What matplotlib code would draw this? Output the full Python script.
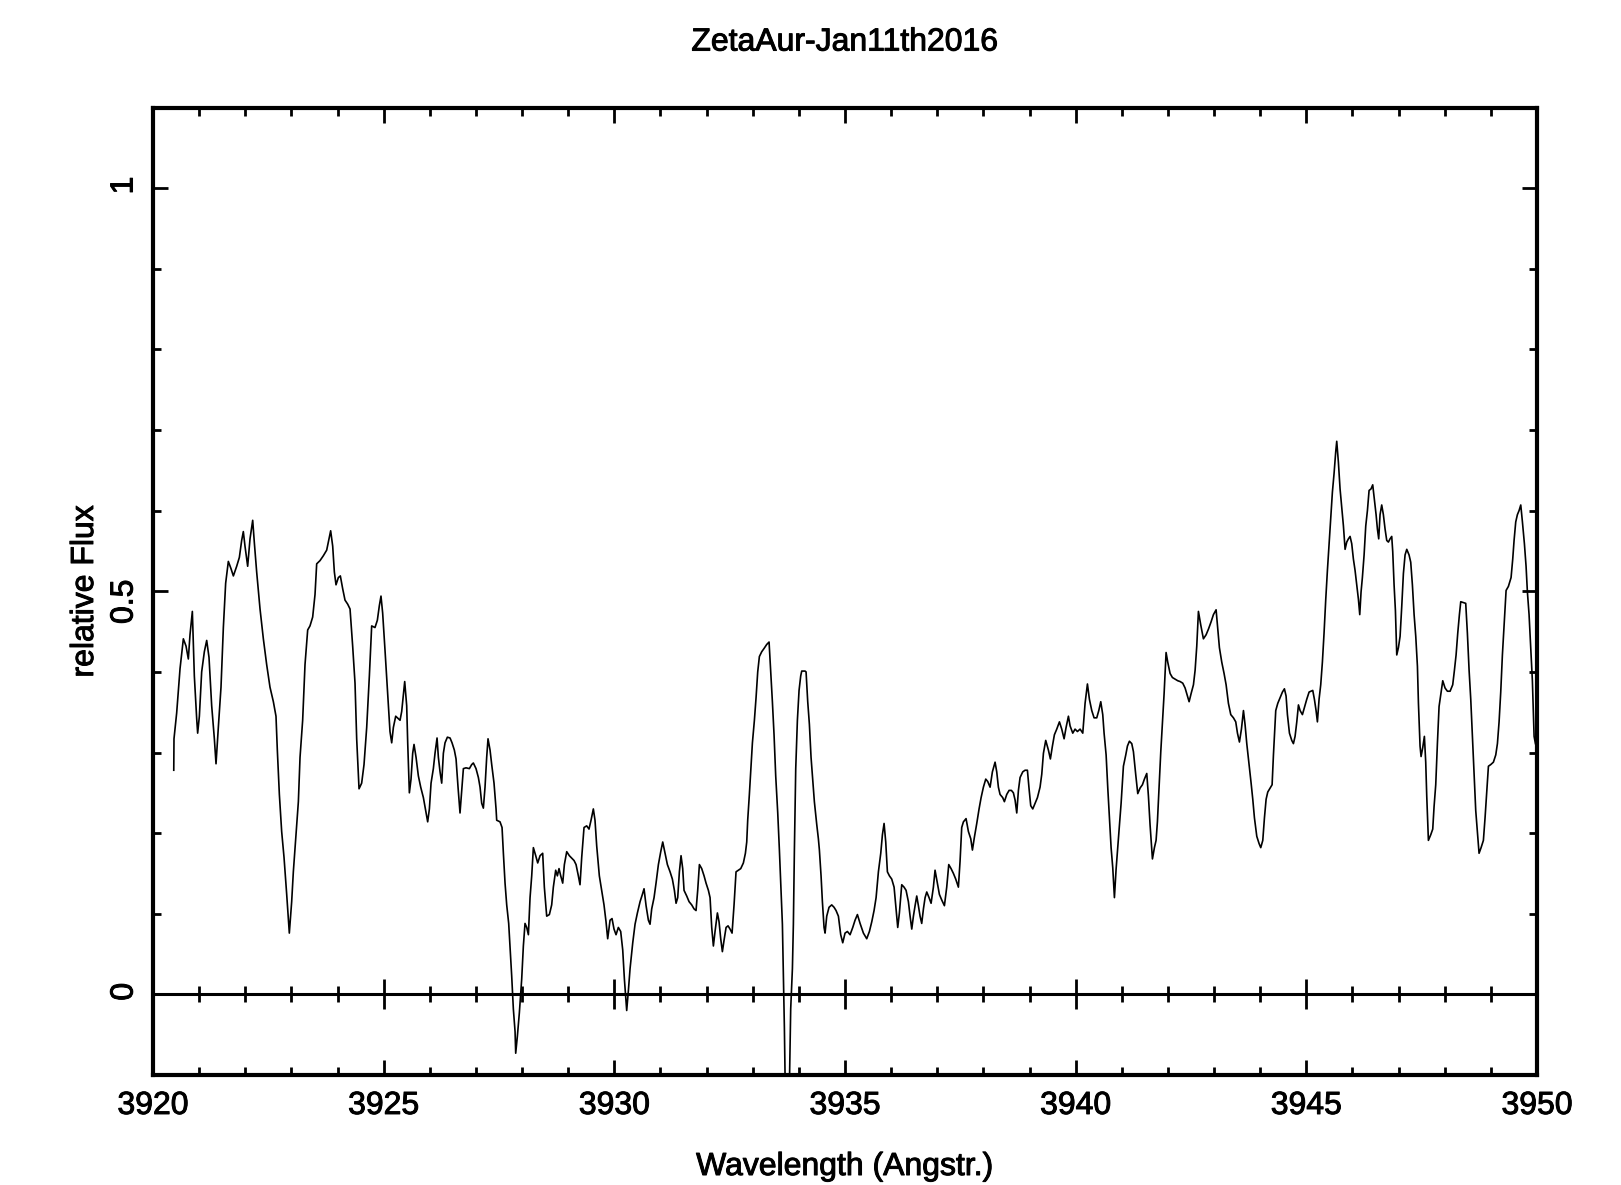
import matplotlib
matplotlib.use("Agg")
import matplotlib.pyplot as plt
import matplotlib.patheffects as pe
from matplotlib.ticker import MultipleLocator

# Spektrum
wavelength = [
    3920.450, 3920.455, 3920.513, 3920.586, 3920.658, 3920.716, 3920.766, 3920.802, 3920.853, 3920.896,
    3920.947, 3920.968, 3921.005, 3921.055, 3921.113, 3921.164, 3921.214, 3921.272, 3921.330, 3921.366,
    3921.416, 3921.474, 3921.525, 3921.575, 3921.633, 3921.691, 3921.742, 3921.814, 3921.872, 3921.922,
    3921.958, 3921.994, 3922.052, 3922.103, 3922.161, 3922.197, 3922.247, 3922.320, 3922.392, 3922.464,
    3922.536, 3922.609, 3922.666, 3922.695, 3922.739, 3922.789, 3922.840, 3922.898, 3922.955, 3923.006,
    3923.042, 3923.100, 3923.151, 3923.187, 3923.244, 3923.295, 3923.353, 3923.403, 3923.461, 3923.512,
    3923.548, 3923.620, 3923.692, 3923.765, 3923.815, 3923.851, 3923.895, 3923.931, 3923.967, 3924.018,
    3924.061, 3924.112, 3924.162, 3924.220, 3924.271, 3924.328, 3924.379, 3924.415, 3924.466, 3924.523,
    3924.574, 3924.632, 3924.690, 3924.740, 3924.812, 3924.863, 3924.906, 3924.942, 3924.978, 3925.029,
    3925.087, 3925.137,
    3925.174, 3925.210, 3925.261, 3925.319, 3925.355, 3925.391, 3925.427, 3925.456, 3925.499, 3925.521,
    3925.557, 3925.593, 3925.629, 3925.658, 3925.702, 3925.752, 3925.803, 3925.861, 3925.911, 3925.954,
    3925.991, 3926.027, 3926.077, 3926.113, 3926.157, 3926.186, 3926.222, 3926.258, 3926.294, 3926.330,
    3926.381, 3926.439, 3926.482, 3926.532, 3926.569, 3926.612, 3926.655, 3926.691, 3926.728, 3926.785,
    3926.858, 3926.908, 3926.944, 3927.002, 3927.053, 3927.089, 3927.125, 3927.161, 3927.197, 3927.233,
    3927.262, 3927.306, 3927.342, 3927.392, 3927.436, 3927.450, 3927.522, 3927.566, 3927.595, 3927.631,
    3927.667, 3927.710, 3927.739, 3927.775, 3927.811, 3927.848, 3927.862, 3927.898, 3927.941, 3927.992,
    3928.028, 3928.064, 3928.101, 3928.137, 3928.173, 3928.209, 3928.245, 3928.296, 3928.339, 3928.390,
    3928.447, 3928.483, 3928.534, 3928.592, 3928.642, 3928.678, 3928.729, 3928.765, 3928.801, 3928.838,
    3928.881, 3928.917, 3928.968, 3929.025, 3929.076, 3929.127, 3929.170, 3929.220, 3929.256, 3929.293,
    3929.343, 3929.401, 3929.451, 3929.495, 3929.545, 3929.581, 3929.618, 3929.675, 3929.726, 3929.776,
    3929.820, 3929.856, 3929.907, 3929.950, 3929.993, 3930.037, 3930.087, 3930.138,
    3930.182, 3930.218, 3930.268, 3930.305, 3930.341, 3930.399, 3930.449, 3930.500, 3930.558, 3930.608,
    3930.644, 3930.688, 3930.738, 3930.774, 3930.810, 3930.861, 3930.904, 3930.955, 3931.006, 3931.049,
    3931.099, 3931.150, 3931.208, 3931.258, 3931.302, 3931.338, 3931.374, 3931.410, 3931.446, 3931.482,
    3931.511, 3931.569, 3931.620, 3931.677, 3931.728, 3931.771, 3931.807, 3931.844, 3931.894, 3931.945,
    3931.988, 3932.039, 3932.075, 3932.111, 3932.147, 3932.183, 3932.234, 3932.270, 3932.306, 3932.342,
    3932.378, 3932.422, 3932.465, 3932.508, 3932.552, 3932.595, 3932.638, 3932.689, 3932.740, 3932.797,
    3932.841, 3932.870, 3932.891, 3932.927, 3932.956, 3932.993, 3933.036, 3933.072, 3933.108, 3933.144,
    3933.195, 3933.245, 3933.303, 3933.354, 3933.390, 3933.426, 3933.462, 3933.498, 3933.542, 3933.578,
    3933.614, 3933.643, 3933.664, 3933.686, 3933.745, 3933.800, 3933.823, 3933.860, 3933.881, 3933.903,
    3933.932, 3933.968, 3934.004, 3934.040, 3934.062, 3934.134, 3934.156, 3934.192, 3934.228, 3934.264,
    3934.300, 3934.336, 3934.387, 3934.423, 3934.445, 3934.481, 3934.510, 3934.546, 3934.568, 3934.604,
    3934.654, 3934.712, 3934.763, 3934.806, 3934.857, 3934.907, 3934.951, 3935.001, 3935.052,
    3935.110, 3935.168, 3935.218, 3935.269, 3935.327, 3935.399, 3935.471, 3935.529, 3935.580, 3935.630,
    3935.674, 3935.724, 3935.775, 3935.811, 3935.847, 3935.883, 3935.919, 3935.963, 3936.013, 3936.064,
    3936.100, 3936.143, 3936.179, 3936.230, 3936.280, 3936.324, 3936.374, 3936.411, 3936.447, 3936.483,
    3936.519, 3936.555, 3936.591, 3936.627, 3936.663, 3936.700, 3936.736, 3936.772, 3936.822, 3936.866,
    3936.916, 3936.952, 3937.003, 3937.046, 3937.097, 3937.155, 3937.205, 3937.249, 3937.299, 3937.350,
    3937.400, 3937.458, 3937.494, 3937.530, 3937.567, 3937.624, 3937.675, 3937.726, 3937.762, 3937.805,
    3937.856, 3937.906, 3937.950, 3938.000, 3938.051, 3938.094, 3938.145, 3938.195, 3938.253, 3938.289,
    3938.325, 3938.361, 3938.419, 3938.455, 3938.506, 3938.557, 3938.607, 3938.650, 3938.687, 3938.723,
    3938.759, 3938.795, 3938.853, 3938.903, 3938.954, 3938.990, 3939.026, 3939.070, 3939.120, 3939.171,
    3939.228, 3939.265, 3939.301, 3939.351, 3939.409, 3939.452, 3939.496, 3939.539, 3939.590, 3939.648,
    3939.698, 3939.749, 3939.792, 3939.843, 3939.879, 3939.937, 3939.987, 3940.038,
    3940.096, 3940.154, 3940.204, 3940.255, 3940.298, 3940.349, 3940.399, 3940.457, 3940.501, 3940.544,
    3940.587, 3940.616, 3940.660, 3940.696, 3940.732, 3940.768, 3940.804, 3940.840, 3940.876, 3940.913,
    3940.949, 3940.985, 3941.035, 3941.086, 3941.122, 3941.165, 3941.216, 3941.252, 3941.303, 3941.346,
    3941.397, 3941.447, 3941.490, 3941.541, 3941.577, 3941.613, 3941.664, 3941.707, 3941.743, 3941.772,
    3941.808, 3941.845, 3941.881, 3941.917, 3941.960, 3941.996, 3942.047, 3942.097, 3942.155, 3942.213,
    3942.264, 3942.321, 3942.372, 3942.423, 3942.459, 3942.502, 3942.553, 3942.589, 3942.625, 3942.661,
    3942.712, 3942.769, 3942.827, 3942.878, 3942.935, 3942.986, 3943.044, 3943.080, 3943.116, 3943.167,
    3943.217, 3943.261, 3943.311, 3943.362, 3943.420, 3943.470, 3943.507, 3943.550, 3943.593, 3943.637,
    3943.673, 3943.709, 3943.759, 3943.803, 3943.839, 3943.875, 3943.926, 3943.976, 3944.012, 3944.056,
    3944.092, 3944.128, 3944.164, 3944.215, 3944.258, 3944.287, 3944.337, 3944.381, 3944.431, 3944.482,
    3944.525, 3944.561, 3944.590, 3944.634, 3944.684, 3944.720, 3944.756, 3944.793, 3944.829, 3944.865,
    3944.915, 3944.959, 3945.009, 3945.060,
    3945.139, 3945.175, 3945.211, 3945.240, 3945.276, 3945.312, 3945.348, 3945.384, 3945.421, 3945.457,
    3945.493, 3945.529, 3945.565, 3945.601, 3945.637, 3945.659, 3945.695, 3945.731, 3945.767, 3945.804,
    3945.840, 3945.876, 3945.912, 3945.948, 3945.984, 3946.020, 3946.056, 3946.093, 3946.129, 3946.158,
    3946.186, 3946.215, 3946.252, 3946.288, 3946.324, 3946.360, 3946.403, 3946.439, 3946.475, 3946.512,
    3946.541, 3946.569, 3946.598, 3946.634, 3946.670, 3946.707, 3946.743, 3946.779, 3946.815, 3946.851,
    3946.873, 3946.902, 3946.931, 3946.960, 3946.996, 3947.032, 3947.068, 3947.104, 3947.140, 3947.177,
    3947.227, 3947.263, 3947.299, 3947.336, 3947.372, 3947.408, 3947.430, 3947.465, 3947.487, 3947.523,
    3947.559, 3947.588, 3947.610, 3947.646, 3947.697, 3947.740, 3947.769, 3947.805, 3947.841, 3947.877,
    3947.921, 3947.957, 3948.007, 3948.058, 3948.116, 3948.173, 3948.210, 3948.246, 3948.282, 3948.318,
    3948.347, 3948.405, 3948.455, 3948.491, 3948.528, 3948.564, 3948.600, 3948.636, 3948.672, 3948.708,
    3948.744, 3948.788, 3948.838, 3948.874, 3948.910, 3948.947, 3948.997, 3949.055, 3949.106, 3949.142,
    3949.178, 3949.214, 3949.250, 3949.286, 3949.330, 3949.380, 3949.438, 3949.474, 3949.503, 3949.539,
    3949.575, 3949.611, 3949.648, 3949.684, 3949.727, 3949.763, 3949.792, 3949.828, 3949.864, 3949.900,
    3949.937, 3949.966,
]

flux = [
    0.278, 0.317, 0.349, 0.404, 0.441, 0.432, 0.416, 0.446, 0.475, 0.395,
    0.342, 0.324, 0.345, 0.400, 0.425, 0.439, 0.418, 0.358, 0.317, 0.286,
    0.331, 0.381, 0.455, 0.510, 0.537, 0.528, 0.519, 0.531, 0.542, 0.563,
    0.574, 0.556, 0.531, 0.565, 0.588, 0.560, 0.524, 0.478, 0.441, 0.409,
    0.381, 0.363, 0.345, 0.303, 0.248, 0.202, 0.170, 0.124, 0.076, 0.115,
    0.152, 0.198, 0.239, 0.294, 0.340, 0.409, 0.452, 0.457, 0.468, 0.496,
    0.534, 0.538, 0.544, 0.551, 0.565, 0.575, 0.556, 0.524, 0.508, 0.517,
    0.519, 0.503, 0.489, 0.484, 0.478, 0.432, 0.386, 0.317, 0.255, 0.262,
    0.285, 0.331, 0.395, 0.457, 0.455, 0.464, 0.482, 0.494, 0.473, 0.427,
    0.372, 0.326,
    0.312, 0.331, 0.345, 0.342, 0.340, 0.351, 0.372, 0.388, 0.358, 0.312,
    0.250, 0.267, 0.299, 0.310, 0.294, 0.271, 0.257, 0.244, 0.228, 0.214,
    0.230, 0.262, 0.280, 0.299, 0.318, 0.294, 0.276, 0.262, 0.299, 0.312,
    0.319, 0.318, 0.312, 0.303, 0.292, 0.257, 0.225, 0.253, 0.280, 0.281,
    0.280, 0.285, 0.287, 0.280, 0.269, 0.257, 0.237, 0.231, 0.257, 0.294,
    0.317, 0.303, 0.285, 0.262, 0.230, 0.216, 0.214, 0.207, 0.175, 0.138,
    0.111, 0.088, 0.060, 0.023, -0.018, -0.046, -0.073, -0.052, -0.023, 0.019,
    0.060, 0.088, 0.083, 0.074, 0.120, 0.147, 0.182, 0.172, 0.163, 0.172,
    0.175, 0.133, 0.097, 0.099, 0.111, 0.133, 0.154, 0.147, 0.156, 0.147,
    0.138, 0.161, 0.177, 0.172, 0.169, 0.166, 0.161, 0.147, 0.136, 0.170,
    0.207, 0.209, 0.205, 0.216, 0.230, 0.216, 0.184, 0.147, 0.129, 0.111,
    0.090, 0.069, 0.092, 0.094, 0.081, 0.074, 0.083, 0.078,
    0.055, 0.019, -0.020, 0.005, 0.032, 0.064, 0.087, 0.101, 0.115, 0.124,
    0.131, 0.110, 0.092, 0.087, 0.106, 0.120, 0.138, 0.161, 0.177, 0.189,
    0.175, 0.161, 0.152, 0.143, 0.129, 0.113, 0.120, 0.152, 0.172, 0.156,
    0.129, 0.122, 0.115, 0.111, 0.106, 0.104, 0.129, 0.161, 0.156, 0.147,
    0.138, 0.129, 0.120, 0.083, 0.060, 0.078, 0.101, 0.090, 0.069, 0.053,
    0.067, 0.083, 0.085, 0.081, 0.076, 0.111, 0.152, 0.154, 0.156, 0.163,
    0.175, 0.189, 0.216, 0.248, 0.276, 0.312, 0.340, 0.368, 0.400, 0.419,
    0.425, 0.429, 0.434, 0.437, 0.400, 0.363, 0.322, 0.271, 0.225, 0.179,
    0.129, 0.087, 0.023, -0.041, -0.280, -0.100, -0.018, 0.032, 0.087, 0.179,
    0.280, 0.340, 0.377, 0.395, 0.401, 0.401, 0.400, 0.363, 0.335, 0.294,
    0.267, 0.239, 0.211, 0.193, 0.179, 0.147, 0.115, 0.083, 0.076, 0.097,
    0.108, 0.111, 0.108, 0.104, 0.097, 0.074, 0.064, 0.076, 0.078,
    0.074, 0.083, 0.092, 0.099, 0.088, 0.076, 0.069, 0.078, 0.090, 0.104,
    0.120, 0.152, 0.175, 0.198, 0.212, 0.189, 0.152, 0.147, 0.143, 0.133,
    0.110, 0.083, 0.101, 0.136, 0.133, 0.129, 0.115, 0.097, 0.081, 0.097,
    0.110, 0.122, 0.110, 0.097, 0.088, 0.106, 0.120, 0.127, 0.120, 0.113,
    0.133, 0.154, 0.138, 0.124, 0.117, 0.110, 0.133, 0.161, 0.156, 0.150,
    0.143, 0.133, 0.165, 0.207, 0.214, 0.218, 0.202, 0.193, 0.179, 0.195,
    0.212, 0.230, 0.244, 0.257, 0.267, 0.264, 0.257, 0.276, 0.288, 0.276,
    0.257, 0.248, 0.244, 0.239, 0.248, 0.253, 0.253, 0.250, 0.241, 0.225,
    0.253, 0.269, 0.276, 0.278, 0.278, 0.255, 0.234, 0.230, 0.237, 0.244,
    0.257, 0.273, 0.299, 0.315, 0.303, 0.292, 0.308, 0.322, 0.329, 0.338,
    0.329, 0.317, 0.331, 0.345, 0.333, 0.324, 0.329, 0.326,
    0.329, 0.324, 0.361, 0.385, 0.366, 0.352, 0.343, 0.343, 0.352, 0.363,
    0.347, 0.324, 0.297, 0.256, 0.219, 0.182, 0.157, 0.120, 0.155, 0.182,
    0.210, 0.237, 0.283, 0.297, 0.308, 0.314, 0.311, 0.301, 0.272, 0.249,
    0.256, 0.260, 0.267, 0.274, 0.246, 0.210, 0.168, 0.182, 0.191, 0.214,
    0.256, 0.301, 0.338, 0.373, 0.424, 0.412, 0.398, 0.393, 0.391, 0.389,
    0.388, 0.386, 0.380, 0.370, 0.363, 0.373, 0.384, 0.402, 0.432, 0.475,
    0.458, 0.441, 0.446, 0.453, 0.462, 0.471, 0.477, 0.453, 0.430, 0.412,
    0.398, 0.384, 0.361, 0.347, 0.343, 0.338, 0.324, 0.313, 0.329, 0.352,
    0.334, 0.311, 0.285, 0.262, 0.242, 0.219, 0.196, 0.187, 0.182, 0.191,
    0.219, 0.242, 0.251, 0.256, 0.260, 0.297, 0.352, 0.361, 0.368, 0.375,
    0.379, 0.370, 0.347, 0.324, 0.315, 0.311, 0.320, 0.338, 0.359, 0.352,
    0.347, 0.356, 0.366, 0.375,
    0.377, 0.366, 0.352, 0.338, 0.366, 0.384, 0.412, 0.448, 0.490, 0.526,
    0.559, 0.591, 0.623, 0.646, 0.673, 0.686, 0.660, 0.627, 0.604, 0.581,
    0.552, 0.561, 0.565, 0.568, 0.559, 0.540, 0.526, 0.508, 0.490, 0.471,
    0.499, 0.517, 0.545, 0.581, 0.600, 0.625, 0.627, 0.632, 0.614, 0.595,
    0.577, 0.565, 0.595, 0.607, 0.595, 0.577, 0.563, 0.561, 0.565, 0.568,
    0.549, 0.508, 0.476, 0.421, 0.430, 0.444, 0.481, 0.522, 0.545, 0.552,
    0.545, 0.536, 0.508, 0.471, 0.444, 0.407, 0.361, 0.308, 0.295, 0.306,
    0.320, 0.288, 0.246, 0.191, 0.198, 0.205, 0.233, 0.260, 0.311, 0.357,
    0.375, 0.389, 0.380, 0.376, 0.376, 0.384, 0.402, 0.421, 0.448, 0.471,
    0.487, 0.486, 0.485, 0.448, 0.402, 0.366, 0.320, 0.274, 0.228, 0.201,
    0.175, 0.182, 0.191, 0.219, 0.251, 0.283, 0.285, 0.288, 0.297, 0.311,
    0.338, 0.375, 0.421, 0.457, 0.501, 0.506, 0.517, 0.540, 0.563, 0.586,
    0.595, 0.600, 0.607, 0.586, 0.559, 0.531, 0.499, 0.471, 0.430, 0.389,
    0.320, 0.311,
]

x_ticks = [3920, 3925, 3930, 3935, 3940, 3945, 3950]
y_ticks = [0, 0.5, 1]
y_tick_labels = ["0", "0.5", "1"]
x_limits = (3920, 3950)
y_limits = (-0.1, 1.1)

plt.rcParams['font.family'] = ['Liberation Sans', 'DejaVu Sans']

fig = plt.figure(figsize=(16.21, 11.85), dpi=100)
ax = fig.add_axes([153 / 1621, 110 / 1185, 1384 / 1621, 967.5 / 1185])

ax.plot(wavelength, flux, color='black', lw=1.2)

ax.set_xlim(*x_limits)
ax.set_ylim(*y_limits)
ax.set_xticks(x_ticks)
ax.xaxis.set_minor_locator(MultipleLocator(1))
ax.set_yticks(y_ticks, y_tick_labels)
ax.yaxis.set_minor_locator(MultipleLocator(0.1))

ax.tick_params(which='both', direction='in', top=True, right=True, width=2, color='black')
ax.tick_params(which='major', length=11)
ax.tick_params(which='minor', length=6)
ax.tick_params(axis='x', labelsize=23, pad=11.5)
ax.tick_params(axis='y', labelsize=23, pad=9.7, labelrotation=90)
for sp in ax.spines.values():
    sp.set_linewidth(3)

# Nulllinie mit Ticks
zero_pos = (0 - y_limits[0]) / (y_limits[1] - y_limits[0])
zax = ax.secondary_xaxis(zero_pos)
zax.set_xticks(x_ticks)
zax.xaxis.set_minor_locator(MultipleLocator(1))
zax.tick_params(which='both', direction='inout', labelbottom=False, labeltop=False, width=2)
zax.tick_params(which='major', length=21.5)
zax.tick_params(which='minor', length=11.5)
for sp in zax.spines.values():
    sp.set_linewidth(2.2)

ax.set_title("ZetaAur-Jan11th2016", fontsize=23, pad=41)
ax.set_xlabel("Wavelength (Angstr.)", fontsize=23)
ax.xaxis.set_label_coords(0.5, -0.0796)
ax.set_ylabel("relative Flux", fontsize=23)
ax.yaxis.set_label_coords(-0.0383, 0.5)

# Schrift etwas kraeftiger, wie im Original
dick = [pe.withStroke(linewidth=0.7, foreground='black')]
for t in ax.get_xticklabels() + ax.get_yticklabels() + [ax.title, ax.xaxis.label, ax.yaxis.label]:
    t.set_path_effects(dick)

fig.savefig('out.png', dpi=100)
